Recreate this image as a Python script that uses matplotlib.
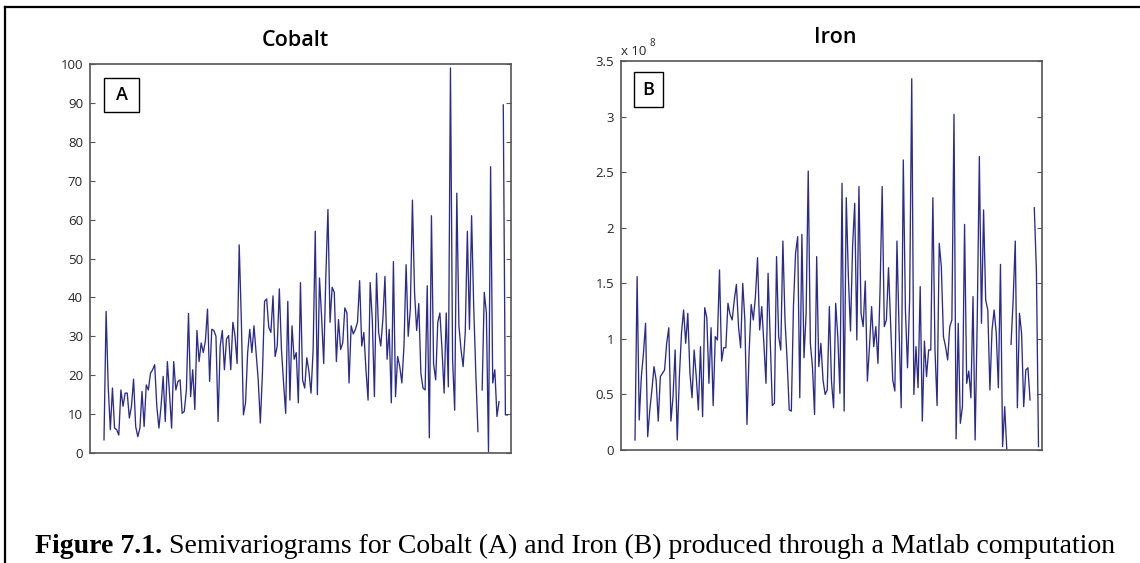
import numpy as np
import matplotlib
matplotlib.use("Agg")
import matplotlib.pyplot as plt
from matplotlib.patches import Rectangle
from matplotlib.lines import Line2D
from matplotlib import transforms

nan = np.nan

# Semivariogram values, cobalt (gaps marked with nan)
cobalt = [
    3.4, 36.4, 17, 6, 16.7, 6.4, 6, 4.6, 16.2, 12, 15.4, 15.4, 9, 12, 19, 6.8,
    4.2, 6.4, 15.8, 6.8, 17.5, 16.2, 20.5, 21.4, 22.7, 12, 6.4, 12, 19.7, 8.1,
    23.5, 15.4, 6.4, 23.5, 16.2, 18.4, 18.8, 10.2, 10.7, 16.2, 35.9, 14.5, 21.4,
    11.2,
    31.5, 23.5, 28.3, 25.8, 28.8, 37, 18.4, 31.8, 31.5, 30, 8.1, 27.5, 31.5,
    21.4, 29.3, 30.2, 21.4, 33.6, 30.2, 23, 53.5, 34.3, 9.8, 12.9, 25.8, 31.8,
    25.8, 32.7, 25.8, 18.8, 7.7, 20.5, 39, 39.6, 32.3, 31, 40.4, 24.8, 27.5,
    42.2, 26.6, 18, 10.2, 39, 13.6, 32.7, 24.1, 25.8, 12.9, 43.8,
    18.8, 16.7, 24.5, 21, 15.4, 26.6, 57, 15, 45, 35, 23, 45.4, 62.6, 33.6,
    42.6, 41.3, 23.5, 34.3, 26.6, 28.3, 37.3, 36, 18, 32.7, 30.6, 31.8, 33.6,
    44.3, 27.5, 31, 21.4, 13.6, 43.8, 34.3, 14.5, 46.2, 31, 27.5, 34.3, 45.4,
    24.1, 31.8, 12.9, 49.2, 14.5, 24.8, 22.2, 18, 27.5, 48.4,
    30, 37, 65, 41.3, 31.5, 38.4, 20.5, 16.7, 16.2, 43, 3.9, 61, 23, 18.8,
    33.6, 36, 26.6, 15.4, 36, 17, 99, 24, 11, 66.8, 32.7, 26.6, 22.2, 31, 57,
    31.8, 61, 37.7, 20.5, 5.5, nan, 16.2, 41.3, 36, 0.4, 73.6, 18, 21.4, 9.4,
    13.2, nan, 89.5, 9.8, 9.8,
]

# Semivariogram values, iron, in units of 1e8 (gaps marked with nan)
iron_e8 = [
    0.09, 1.56, 0.27, 0.66, 0.87, 1.14, 0.12, 0.36, 0.54, 0.75, 0.63, 0.26,
    0.66, 0.69, 0.72, 0.96, 1.1, 0.26, 0.48, 0.9, 0.09, 0.66, 1.05, 1.26, 0.96,
    1.23, 0.69, 0.47, 0.9, 0.66, 0.36, 0.93, 0.3, 1.28, 1.19, 0.6, 1.1, 0.4,
    1.02, 0.99, 1.62, 0.8, 0.92, 0.92, 1.32,
    1.22, 1.17, 1.35, 1.49, 1.11, 0.92, 1.5, 1.17, 0.23, 0.87, 1.31, 1.17,
    1.38, 1.73, 1.08, 1.29, 0.96, 0.6, 1.59, 0.99, 0.4, 0.42, 1.74, 1.02, 0.9,
    1.88, 1.17, 0.81, 0.36, 0.35, 1.29, 1.77, 1.92, 0.47, 1.94, 0.83, 1.23,
    2.51, 0.96, 0.75, 0.32, 1.74, 0.75, 0.96, 0.63, 0.5, 0.54, 1.29, 0.62,
    0.38, 1.32,
    1.02, 0.51, 2.4, 0.35, 2.27, 1.56, 1.07, 1.83, 2.22, 0.99, 2.37, 1.23,
    1.11, 1.52, 0.62, 0.93, 1.29, 0.93, 1.11, 0.78, 1.44, 2.37, 1.11, 1.17,
    1.64, 1.14, 0.63, 0.53, 1.88, 1.08, 0.38, 2.61, 1.26, 0.74, 1.35, 3.34,
    0.5, 0.93, 0.56, 1.47, 0.26, 0.98, 0.66, 0.9, 0.9, 2.27, 0.9, 0.4, 1.86,
    1.65, 1.02,
    0.93, 0.81, 1.11, 1.17, 3.02, 0.1, 1.14, 0.24, 0.39, 2.03, 0.6, 0.71, 0.47,
    1.38, 0.09, 1.17, 2.64, 1.14, 2.16, 1.35, 1.26, 0.54, 1.08, 1.26, 1.05,
    0.56, 1.67, 0.03, 0.39, 0.0, nan, 0.95, 1.35, 1.88, 0.38, 1.23, 1.05, 0.39,
    0.72, 0.74, 0.45, nan, 2.18, 1.62, 0.03,
]

cobalt_ticks = [0, 10, 20, 30, 40, 50, 60, 70, 80, 90, 100]
cobalt_tick_labels = ["0", "10", "20", "30", "40", "50", "60", "70", "80", "90", "100"]
iron_ticks = [0, 0.5, 1, 1.5, 2, 2.5, 3, 3.5]
iron_tick_labels = ["0", "0.5", "1", "1.5", "2", "2.5", "3", "3.5"]
titles = ["Cobalt", "Iron"]
panel_tags = ["A", "B"]
iron_scale_label = "x 10"
iron_scale_exp = "8"
caption_bold = "Figure 7.1."
caption_rest = (" Semivariograms for Cobalt (A) and Iron (B) produced "
                "through a Matlab computation")

W, H = 1140, 563
LINE = "#2b2b8e"
SPINE = "#555555"
TEXT = "#262626"
SANS = ["Open Sans", "DejaVu Sans"]
SERIF = ["Liberation Serif", "DejaVu Serif"]

fig = plt.figure(figsize=(W / 100, H / 100), dpi=100)
fig.patch.set_facecolor("white")


def px_rect(x0, top, x1, bottom):
    return [x0 / W, 1 - bottom / H, (x1 - x0) / W, (bottom - top) / H]


def panel(rect, values, ymax, ticks, labels, title, title_x, tag, tag_box):
    ax = fig.add_axes(rect)
    n = len(values)
    x = np.arange(1, n + 1)
    ax.plot(x, values, color=LINE, lw=0.95)
    # leave a small margin inside the frame before the first and after the last sample
    width_px = rect[2] * W
    ppu = (width_px - 14 - 3.5) / (n - 1)
    ax.set_xlim(1 - 14 / ppu, n + 3.5 / ppu)
    ax.set_ylim(0, ymax)
    ax.set_xticks([])
    ax.set_yticks(ticks)
    ax.set_yticklabels(labels, family=SANS)
    ax.tick_params(axis="y", direction="in", length=3.5, width=0.8,
                   left=True, right=True, labelsize=9.5, pad=5,
                   colors=SPINE, labelcolor=TEXT)
    for s in ax.spines.values():
        s.set_color(SPINE)
        s.set_linewidth(1.2)
    ax.set_title(title, x=title_x, pad=13, fontsize=15.5, family=SANS,
                 fontweight="semibold", color="black")
    bx, by, bw, bh = tag_box
    ax.add_patch(Rectangle((bx, by), bw, bh, transform=ax.transAxes,
                           facecolor="white", edgecolor="black", lw=1.0,
                           zorder=5))
    ax.text(bx + bw / 2, by + bh / 2, tag, transform=ax.transAxes,
            ha="center", va="center", fontsize=13, family=SANS,
            fontweight="semibold", color="black", zorder=6)
    return ax


ax_co = panel(px_rect(90, 64, 511, 453), cobalt, 100, cobalt_ticks,
              cobalt_tick_labels, titles[0], 0.487, panel_tags[0],
              (14 / 421, (453 - 112) / 389, 35 / 421, 34 / 389))

ax_fe = panel(px_rect(621, 61, 1042, 450), iron_e8, 3.5, iron_ticks,
              iron_tick_labels, titles[1], 0.51, panel_tags[1],
              (13 / 421, (450 - 107) / 389, 29 / 421, 35 / 389))

# exponent label above the iron axis
base = transforms.offset_copy(ax_fe.transAxes, fig=fig, x=0, y=6, units="dots")
t_scale = ax_fe.text(0, 1, iron_scale_label, transform=base, ha="left",
                     va="baseline", fontsize=9.5, family=SANS, color=TEXT)
ax_fe.annotate(iron_scale_exp, xy=(1, 1), xycoords=t_scale, xytext=(2.5, -3),
               textcoords="offset points", ha="left", va="bottom",
               fontsize=7, family=SANS, color=TEXT)

# frame lines along the top and left edge of the figure
fig.add_artist(Line2D([5 / W, 1.0], [1 - 7 / H, 1 - 7 / H],
                      transform=fig.transFigure, color="black", lw=1.6))
fig.add_artist(Line2D([5 / W, 5 / W], [0, 1 - 7 / H],
                      transform=fig.transFigure, color="black", lw=1.6))

# caption
cap = fig.add_axes([0, 0, 1, 1], facecolor="none")
cap.axis("off")
cap.set_zorder(-1)
t_bold = cap.text(35 / W, 1 - 559 / H, caption_bold, transform=cap.transAxes,
                  ha="left", va="bottom", fontsize=20, fontweight="bold",
                  family=SERIF, color="black")
cap.annotate(caption_rest, xy=(1, 0), xycoords=t_bold, ha="left", va="bottom",
             fontsize=20, family=SERIF, color="black")

fig.savefig("out.png", dpi=100, facecolor="white")
